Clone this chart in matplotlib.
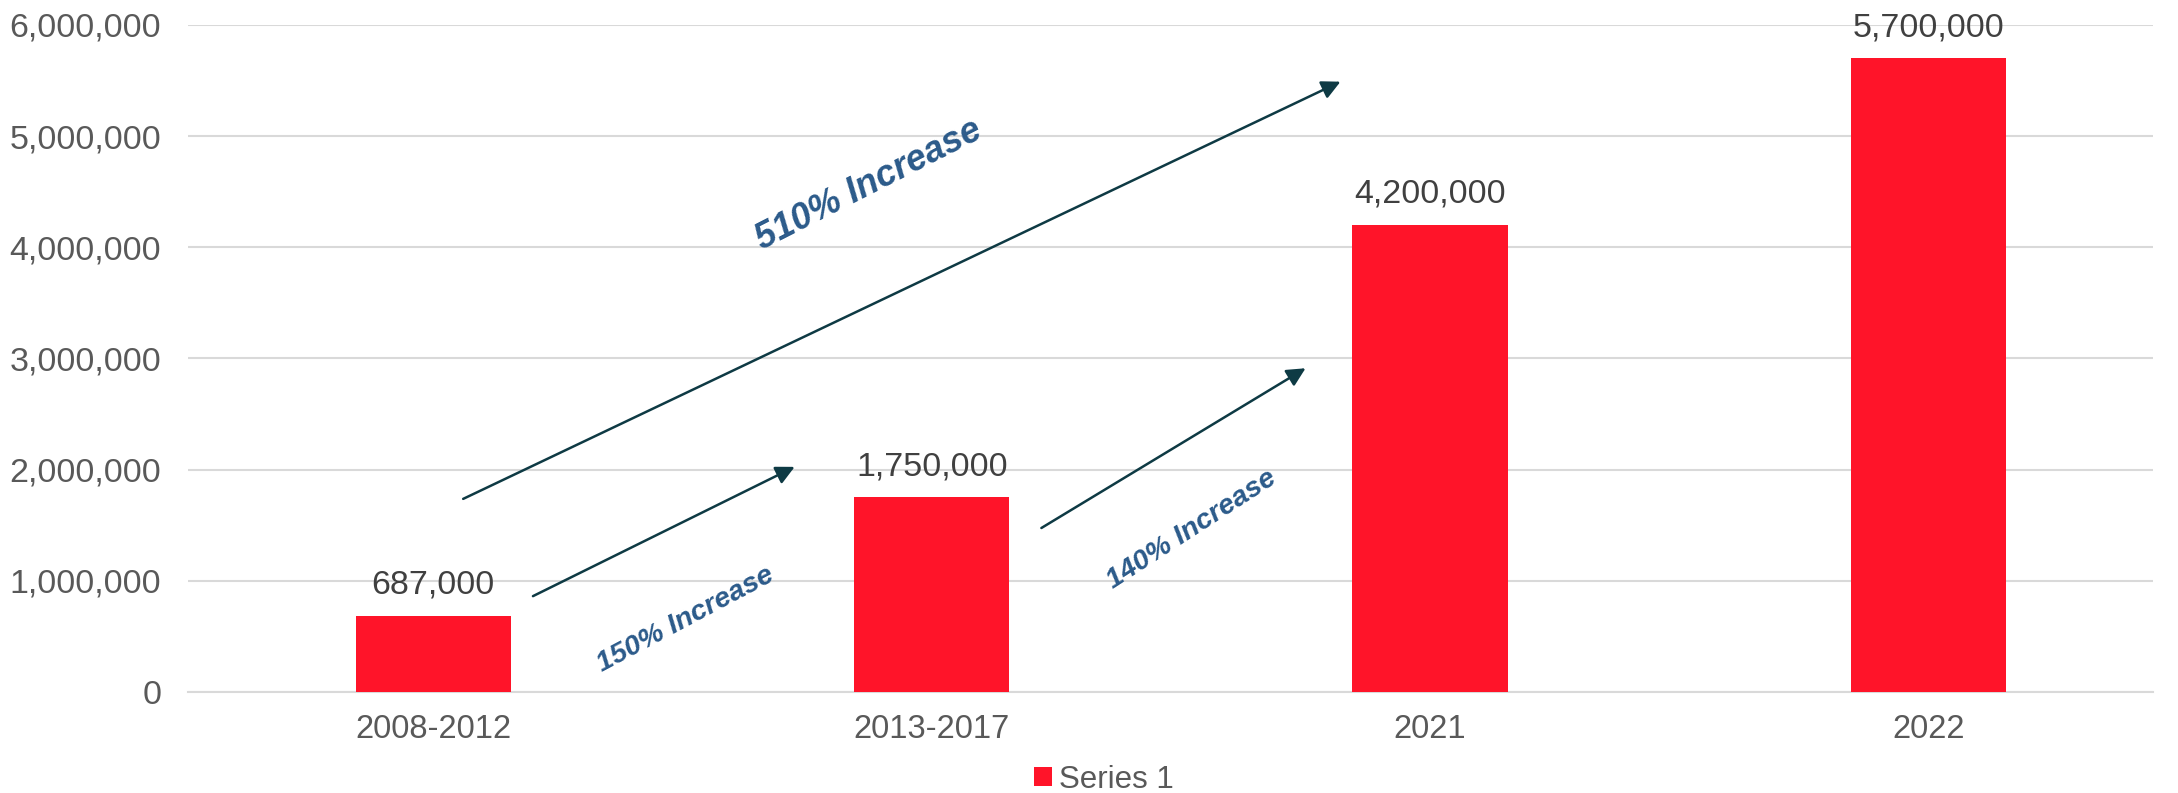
"""
Bar chart of the counts per period, with arrows marking the growth between periods.
"""

import matplotlib

matplotlib.use("Agg")
import matplotlib.pyplot as plt
from matplotlib.ticker import FuncFormatter

periods = ["2008-2012", "2013-2017", "2021", "2022"]
values = [687000, 1750000, 4200000, 5700000]
series_name = "Series 1"

# growth arrows: (start x, start y, end x, end y) in data units
arrow_big = (0.06, 1737000, 1.82, 5490000)
arrow_first = (0.20, 862000, 0.725, 2025000)
arrow_second = (1.22, 1475000, 1.75, 2912000)

# growth labels: (text, x, y, angle, size)
growth_labels = [
    ("510% Increase", 0.873, 4560000, 27, 26),
    ("150% Increase", 0.507, 650000, 28, 20.5),
    ("140% Increase", 1.522, 1462000, 33, 20.5),
]

BAR_COLOR = "#FF1429"
ARROW_COLOR = "#0E3A44"
NOTE_COLOR = "#2B5A8A"
GRID_COLOR = "#D9D9D9"

plt.rcParams["font.family"] = ["Liberation Sans", "DejaVu Sans"]

fig = plt.figure(figsize=(21.78, 7.93), dpi=100)
ax = fig.add_axes([0.0861, 0.1274, 0.9024, 0.8411])

x = list(range(len(periods)))
bars = ax.bar(x, values, width=0.312, color=BAR_COLOR, label=series_name, zorder=3)

for xi, v in zip(x, values):
    ax.annotate(f"{v:,}", (xi, v), xytext=(0, 11), textcoords="offset points",
                ha="center", va="bottom", fontsize=24.5, color="#404040")

for x0, y0, x1, y1 in (arrow_big, arrow_first, arrow_second):
    ax.annotate("", xy=(x1, y1), xytext=(x0, y0),
                arrowprops=dict(arrowstyle="-|>", color=ARROW_COLOR, lw=1.8,
                                mutation_scale=28, shrinkA=0, shrinkB=0),
                zorder=4)

for text, tx, ty, angle, size in growth_labels:
    ax.text(tx, ty, text, rotation=angle, rotation_mode="anchor", ha="center", va="center",
            fontsize=size, fontweight="bold", fontstyle="italic", color=NOTE_COLOR, zorder=5)

ax.set_xlim(-0.493, 3.45)
ax.set_ylim(0, 6000000)
ax.set_yticks(range(0, 6000001, 1000000))
ax.yaxis.set_major_formatter(FuncFormatter(lambda v, _: f"{int(v):,}"))
ax.set_xticks(x)
ax.set_xticklabels(periods)
ax.tick_params(axis="both", length=0, labelsize=23.5, colors="#595959")
ax.tick_params(axis="y", pad=19, labelsize=24.5)
ax.tick_params(axis="x", pad=16)

ax.grid(axis="y", color=GRID_COLOR, lw=1.5, zorder=0)
for side in ("top", "right", "left"):
    ax.spines[side].set_visible(False)
ax.spines["bottom"].set_color(GRID_COLOR)
ax.spines["bottom"].set_linewidth(1.5)

fig.legend(handles=[bars], labels=[series_name], loc="center", bbox_to_anchor=(0.507, 0.017),
           frameon=False, fontsize=22.5, labelcolor="#595959", handlelength=0.55,
           handleheight=0.55, handletextpad=0.25)

fig.savefig("out.png", dpi=100)
